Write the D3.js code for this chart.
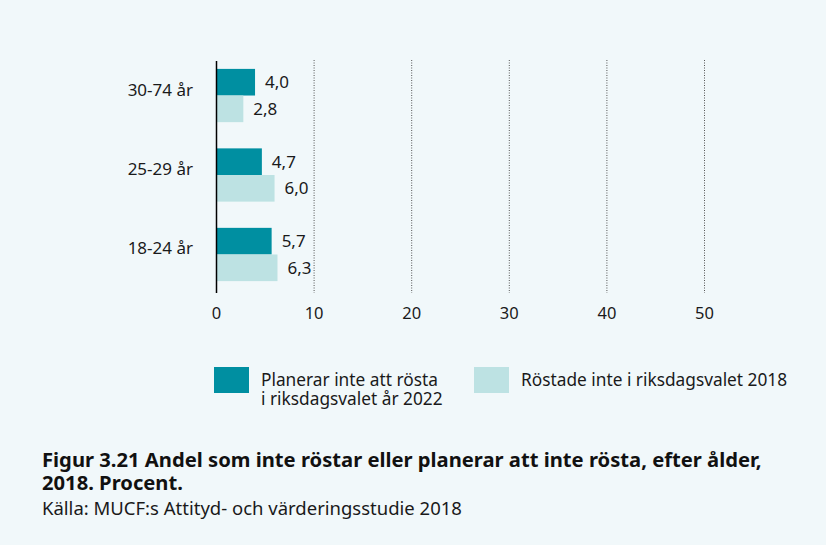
<!DOCTYPE html>
<html>
<head>
<meta charset="utf-8">
<title>Figur 3.21</title>
<style>
  body { margin: 0; background: #f1f8fa; }
  svg { display: block; }
  svg text { font-family: "Noto Sans", sans-serif; }
  .grid line { stroke: #555; stroke-width: 1; stroke-dasharray: 1 1.5; }
  .axis text { font-size: 16.5px; fill: #1a1a1a; }
  .cat text { font-size: 17px; fill: #1a1a1a; }
  .val { font-size: 17px; fill: #1a1a1a; }
</style>
</head>
<body>
<script src="https://cdn.jsdelivr.net/npm/d3@7"></script>
<script>
// data
var categories = ['30-74 år', '25-29 år', '18-24 år'];
var seriesNames = ['Planerar inte att rösta|i riksdagsvalet år 2022', 'Röstade inte i riksdagsvalet 2018'];
var plan2022 = [4.0, 4.7, 5.7];
var didNot2018 = [2.8, 6.0, 6.3];
var xTicks = [0, 10, 20, 30, 40, 50];
var colors = ['#008fa1', '#bde2e3'];

var W = 826, H = 545;
var svg = d3.select('body').append('svg').attr('width', W).attr('height', H);
svg.append('rect').attr('width', W).attr('height', H).attr('fill', '#f1f8fa');

var plotLeft = 216, plotRight = 704, plotTop = 53, plotBottom = 297;

var x = d3.scaleLinear().domain([0, 50]).range([plotLeft, plotRight]);
var y = d3.scaleBand().domain(categories).range([plotTop, plotBottom]).paddingInner(0.33).paddingOuter(0.2);
var sub = d3.scaleBand().domain([0, 1]).range([0, y.bandwidth()]);

// dotted gridlines
svg.append('g').attr('class', 'grid')
  .selectAll('line').data(xTicks.filter(function (d) { return d > 0; }))
  .enter().append('line')
  .attr('x1', function (d) { return x(d) + 0.5; })
  .attr('x2', function (d) { return x(d) + 0.5; })
  .attr('y1', 60).attr('y2', 293);

// x axis labels
var xAxis = d3.axisBottom(x).tickValues(xTicks).tickSize(0).tickPadding(10);
var gx = svg.append('g').attr('class', 'axis').attr('transform', 'translate(0,297)').call(xAxis);
gx.select('.domain').remove();

// bars
var rows = categories.map(function (c, i) { return { cat: c, vals: [plan2022[i], didNot2018[i]] }; });
var groups = svg.append('g').selectAll('g').data(rows).enter().append('g')
  .attr('transform', function (d) { return 'translate(0,' + y(d.cat) + ')'; });

groups.selectAll('rect').data(function (d) { return d.vals; }).enter().append('rect')
  .attr('x', x(0))
  .attr('y', function (d, i) { return sub(i); })
  .attr('width', function (d) { return x(d) - x(0); })
  .attr('height', sub.bandwidth())
  .attr('fill', function (d, i) { return colors[i]; });

groups.selectAll('text.val').data(function (d) { return d.vals; }).enter().append('text')
  .attr('class', 'val')
  .attr('x', function (d) { return x(d) + 10; })
  .attr('y', function (d, i) { return sub(i) + sub.bandwidth() / 2; })
  .attr('dy', '0.35em')
  .text(function (d) { return d.toFixed(1).replace('.', ','); });

// y axis
var yAxis = d3.axisLeft(y).tickSize(0).tickPadding(23);
var gy = svg.append('g').attr('class', 'cat').attr('transform', 'translate(' + plotLeft + ',0)').call(yAxis);
gy.select('.domain').remove();
gy.selectAll('text').attr('dy', '0.0em');
svg.append('line').attr('x1', plotLeft + 0.5).attr('x2', plotLeft + 0.5).attr('y1', 61).attr('y2', 293)
  .attr('stroke', '#000').attr('stroke-width', 1.5);

// legend
var legX = [214, 474];
var leg = svg.append('g').selectAll('g').data(seriesNames).enter().append('g')
  .attr('transform', function (d, i) { return 'translate(' + legX[i] + ',367)'; });
leg.append('rect').attr('width', 35).attr('height', 26).attr('fill', function (d, i) { return colors[i]; });
leg.append('text').attr('y', 19).attr('font-size', 17.3).attr('fill', '#1a1a1a')
  .selectAll('tspan').data(function (d) { return d.split('|'); }).enter().append('tspan')
  .attr('x', 47).attr('dy', function (d, i) { return i ? 19 : 0; })
  .text(function (d) { return d; });

// title and source
svg.append('text').attr('x', 42).attr('y', 467).attr('font-size', 20.2).attr('font-weight', 'bold').attr('fill', '#111')
  .text('Figur 3.21 Andel som inte röstar eller planerar att inte rösta, efter ålder,');
svg.append('text').attr('x', 42).attr('y', 490).attr('font-size', 20.2).attr('font-weight', 'bold').attr('fill', '#111')
  .text('2018. Procent.');
svg.append('text').attr('x', 42).attr('y', 515).attr('font-size', 18.5).attr('fill', '#1a1a1a')
  .text('Källa: MUCF:s Attityd- och värderingsstudie 2018');
</script>
</body>
</html>
